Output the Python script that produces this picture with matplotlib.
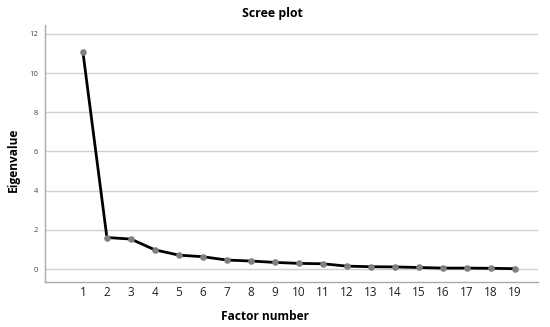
import matplotlib.pyplot as plt

factors = list(range(1, 20))
eigenvalues = [11.07, 1.61, 1.53, 0.98, 0.71, 0.63, 0.46, 0.41, 0.34, 0.29,
               0.27, 0.15, 0.12, 0.11, 0.08, 0.05, 0.05, 0.04, 0.02]
yticks = [0, 2, 4, 6, 8, 10, 12]

plt.rcParams['font.family'] = ['Open Sans', 'DejaVu Sans']

fig = plt.figure(figsize=(5.5, 3.27), dpi=100)
ax = fig.add_axes([0.0818, 0.1376, 0.978 - 0.0818, 0.9235 - 0.1376])

ax.plot(factors, eigenvalues, color='black', linewidth=2, zorder=3)
ax.scatter(factors, eigenvalues, s=14, color='#808080', zorder=4)

ax.set_xlim(-0.58, 19.96)
ax.set_ylim(-0.66, 12.45)
ax.set_xticks(factors)
ax.set_yticks(yticks)
ax.tick_params(axis='x', length=0, labelsize=8.5, labelcolor='#222222', pad=3)
ax.tick_params(axis='y', length=0, labelsize=5.5, labelcolor='#444444', pad=5)

ax.grid(axis='y', color='#d0d0d0', linewidth=1)
ax.set_axisbelow(True)
for s in ['top', 'right']:
    ax.spines[s].set_visible(False)
for s in ['left', 'bottom']:
    ax.spines[s].set_color('#aaaaaa')
    ax.spines[s].set_linewidth(1)

fig.text(272 / 550, 1 - 13 / 327, 'Scree plot', fontsize=8.9, fontweight='bold',
         ha='center', va='center')
fig.text(265 / 550, 1 - 316 / 327, 'Factor number', fontsize=8.6, fontweight='bold',
         ha='center', va='center')
fig.text(13 / 550, 1 - 160 / 327, 'Eigenvalue', fontsize=8.6, fontweight='bold',
         ha='center', va='center', rotation=90)

fig.savefig('out.png', dpi=100)
